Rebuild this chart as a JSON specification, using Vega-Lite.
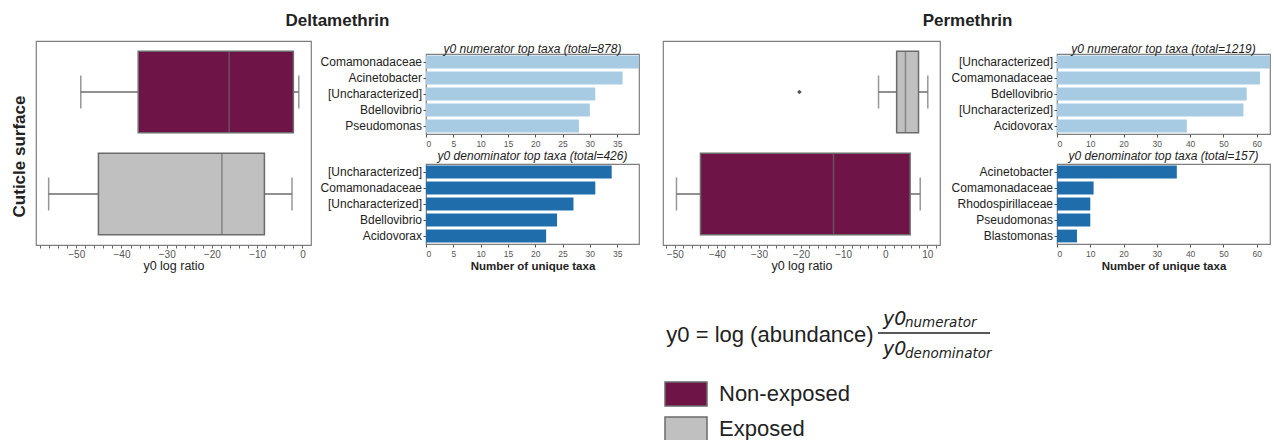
{
  "$schema": "https://vega.github.io/schema/vega-lite/v6.json",
  "background": "white",
  "padding": {"left": 9, "top": 12, "right": 0, "bottom": 0},
  "config": {
    "font": "Liberation Sans",
    "view": {"stroke": "#7f7f7f", "strokeWidth": 1.2},
    "axis": {"grid": false, "domain": false, "labelFont": "Liberation Sans", "titleFont": "Liberation Sans"},
    "title": {"font": "Liberation Sans", "color": "#222222"}
  },
  "datasets": {
    "boxes": [
      {"insecticide": "Deltamethrin", "group": "Non-exposed", "lower": -49.0, "q1": -36.3, "median": -16.2, "q3": -2.0, "upper": -0.8},
      {"insecticide": "Deltamethrin", "group": "Exposed", "lower": -56.1, "q1": -45.1, "median": -17.8, "q3": -8.4, "upper": -2.3},
      {"insecticide": "Permethrin", "group": "Exposed", "lower": -1.6, "q1": 2.7, "median": 4.8, "q3": 7.9, "upper": 10.1},
      {"insecticide": "Permethrin", "group": "Non-exposed", "lower": -49.6, "q1": -43.9, "median": -12.3, "q3": 5.9, "upper": 8.3}
    ],
    "outliers": [
      {"insecticide": "Permethrin", "group": "Exposed", "value": -20.4}
    ],
    "taxa": [
      {"insecticide": "Deltamethrin", "ratio": "numerator", "rank": 1, "taxon": "Comamonadaceae", "count": 39},
      {"insecticide": "Deltamethrin", "ratio": "numerator", "rank": 2, "taxon": "Acinetobacter", "count": 36},
      {"insecticide": "Deltamethrin", "ratio": "numerator", "rank": 3, "taxon": "[Uncharacterized]", "count": 31},
      {"insecticide": "Deltamethrin", "ratio": "numerator", "rank": 4, "taxon": "Bdellovibrio", "count": 30},
      {"insecticide": "Deltamethrin", "ratio": "numerator", "rank": 5, "taxon": "Pseudomonas", "count": 28},
      {"insecticide": "Deltamethrin", "ratio": "denominator", "rank": 1, "taxon": "[Uncharacterized]", "count": 34},
      {"insecticide": "Deltamethrin", "ratio": "denominator", "rank": 2, "taxon": "Comamonadaceae", "count": 31},
      {"insecticide": "Deltamethrin", "ratio": "denominator", "rank": 3, "taxon": "[Uncharacterized]", "count": 27},
      {"insecticide": "Deltamethrin", "ratio": "denominator", "rank": 4, "taxon": "Bdellovibrio", "count": 24},
      {"insecticide": "Deltamethrin", "ratio": "denominator", "rank": 5, "taxon": "Acidovorax", "count": 22},
      {"insecticide": "Permethrin", "ratio": "numerator", "rank": 1, "taxon": "[Uncharacterized]", "count": 64},
      {"insecticide": "Permethrin", "ratio": "numerator", "rank": 2, "taxon": "Comamonadaceae", "count": 61},
      {"insecticide": "Permethrin", "ratio": "numerator", "rank": 3, "taxon": "Bdellovibrio", "count": 57},
      {"insecticide": "Permethrin", "ratio": "numerator", "rank": 4, "taxon": "[Uncharacterized]", "count": 56},
      {"insecticide": "Permethrin", "ratio": "numerator", "rank": 5, "taxon": "Acidovorax", "count": 39},
      {"insecticide": "Permethrin", "ratio": "denominator", "rank": 1, "taxon": "Acinetobacter", "count": 36},
      {"insecticide": "Permethrin", "ratio": "denominator", "rank": 2, "taxon": "Comamonadaceae", "count": 11},
      {"insecticide": "Permethrin", "ratio": "denominator", "rank": 3, "taxon": "Rhodospirillaceae", "count": 10},
      {"insecticide": "Permethrin", "ratio": "denominator", "rank": 4, "taxon": "Pseudomonas", "count": 10},
      {"insecticide": "Permethrin", "ratio": "denominator", "rank": 5, "taxon": "Blastomonas", "count": 6}
    ],
    "formula": [
      {"level": "numerator", "slot": "base", "text": "y0"},
      {"level": "numerator", "slot": "sub", "text": "numerator"},
      {"level": "denominator", "slot": "base", "text": "y0"},
      {"level": "denominator", "slot": "sub", "text": "denominator"}
    ],
    "lhs": [{"text": "y0 = log (abundance)"}],
    "blank": [{"empty": true}]
  },
  "spacing": 22,
  "hconcat": [
    {
      "title": {"text": "Deltamethrin", "fontSize": 17, "fontWeight": "bold", "anchor": "middle", "offset": 10, "dx": 13},
      "columns": 2,
      "align": "none",
      "spacing": 7,
      "concat": [
        {
          "width": 275, "height": 204,
          "data": {"name": "boxes"},
          "transform": [{"filter": "datum.insecticide === 'Deltamethrin'"}],
          "encoding": {
            "y": {"field": "group", "type": "nominal", "sort": ["Non-exposed", "Exposed"],
                  "scale": {"paddingInner": 0.2, "paddingOuter": 0.1},
                  "axis": {"title": "Cuticle surface", "labels": false, "ticks": false, "domain": false,
                           "titleFontSize": 17, "titleFontWeight": "bold", "titleColor": "#222222", "titlePadding": 8, "titleY": 115}}
          },
          "layer": [
            {"mark": {"type": "rule", "color": "#6b6b6b", "strokeWidth": 1.5},
             "encoding": {"x": {"field": "lower", "type": "quantitative", "title": "y0 log ratio",
                                "scale": {"domain": [-58.9, 1.9], "nice": false, "zero": false},
                                "axis": {"values": [-58,-56,-54,-52,-50,-48,-46,-44,-42,-40,-38,-36,-34,-32,-30,-28,-26,-24,-22,-20,-18,-16,-14,-12,-10,-8,-6,-4,-2,0],
                                         "tickCount": 100,
                                         "labelExpr": "datum.value % 10 === 0 ? replace(format(datum.value, 'd'), '-', '\u2212') : ''",
                                         "tickSize": 3, "tickColor": "#666666", "labelFontSize": 10, "labelColor": "#555555", "labelPadding": 1,
                                         "labelOverlap": false, "labelFlush": false,
                                         "titleFontSize": 12.5, "titleFontWeight": "normal", "titleColor": "#222222", "titlePadding": 0}},
                          "x2": {"field": "q1"}}},
            {"mark": {"type": "rule", "color": "#6b6b6b", "strokeWidth": 1.5},
             "encoding": {"x": {"field": "q3", "type": "quantitative", "title": "y0 log ratio"}, "x2": {"field": "upper"}}},
            {"mark": {"type": "bar", "stroke": "#6b6b6b", "strokeWidth": 1.5},
             "encoding": {"x": {"field": "q1", "type": "quantitative", "title": "y0 log ratio"}, "x2": {"field": "q3"},
                          "fill": {"field": "group", "type": "nominal",
                                   "scale": {"domain": ["Non-exposed", "Exposed"], "range": ["#6f1446", "#c0c0c0"]},
                                   "legend": {"orient": "none", "legendX": 634, "legendY": 337, "title": null,
                                              "symbolType": "M-1.4,-0.8H1.4V0.8H-1.4Z", "symbolSize": 900,
                                              "symbolStrokeColor": "#888888", "symbolStrokeWidth": 1.5, "symbolOpacity": 1,
                                              "labelFontSize": 22, "labelColor": "#222222", "labelOffset": 17, "rowPadding": 4,
                                              "labelFont": "Liberation Sans"}}}},
            {"mark": {"type": "tick", "color": "#6b6b6b", "size": 81, "thickness": 1.5},
             "encoding": {"x": {"field": "median", "type": "quantitative", "title": "y0 log ratio"}}},
            {"mark": {"type": "tick", "color": "#6b6b6b", "size": 33, "thickness": 1.5},
             "encoding": {"x": {"field": "lower", "type": "quantitative", "title": "y0 log ratio"}}},
            {"mark": {"type": "tick", "color": "#6b6b6b", "size": 33, "thickness": 1.5},
             "encoding": {"x": {"field": "upper", "type": "quantitative", "title": "y0 log ratio"}}}
          ]
        },
        {
          "spacing": 0,
          "vconcat": [
            {
              "width": 213, "height": 1,
              "view": {"stroke": null},
              "data": {"name": "blank"},
              "mark": {"type": "point", "opacity": 0, "size": 0}
            },
            {
              "width": 213, "height": 80,
              "title": {"text": "y0 numerator top taxa (total=878)", "fontSize": 12, "fontStyle": "italic", "fontWeight": "normal", "offset": -2, "frame": "group"},
              "data": {"name": "taxa"},
              "transform": [{"filter": "datum.insecticide === 'Deltamethrin' && datum.ratio === 'numerator'"}, {"calculate": "datum.rank + '|' + datum.taxon", "as": "key"}],
              "mark": {"type": "bar", "color": "#a6cbe3", "clip": true},
              "encoding": {
                "y": {"field": "key", "type": "nominal", "sort": null, "scale": {"paddingInner": 0.2, "paddingOuter": 0.1},
                      "axis": {"title": null, "labelExpr": "split(datum.label, '|')[1]", "labelFontSize": 12, "labelColor": "#222222", "tickSize": 3, "tickColor": "#555555", "labelPadding": 1.5}},
                "x": {"field": "count", "type": "quantitative", "scale": {"domain": [0, 39], "nice": false},
                      "axis": {"title": null, "values": [0, 5, 10, 15, 20, 25, 30, 35], "tickCount": 100, "format": "d", "labelFontSize": 8.5, "labelColor": "#555555", "tickSize": 3, "tickColor": "#555555", "labelPadding": 2}}
              }
            },
            {
              "width": 213, "height": 80,
              "title": {"text": "y0 denominator top taxa (total=426)", "fontSize": 12, "fontStyle": "italic", "fontWeight": "normal", "offset": 1, "frame": "group"},
              "data": {"name": "taxa"},
              "transform": [{"filter": "datum.insecticide === 'Deltamethrin' && datum.ratio === 'denominator'"}, {"calculate": "datum.rank + '|' + datum.taxon", "as": "key"}],
              "mark": {"type": "bar", "color": "#1f6eab", "clip": true},
              "encoding": {
                "y": {"field": "key", "type": "nominal", "sort": null, "scale": {"paddingInner": 0.2, "paddingOuter": 0.1},
                      "axis": {"title": null, "labelExpr": "split(datum.label, '|')[1]", "labelFontSize": 12, "labelColor": "#222222", "tickSize": 3, "tickColor": "#555555", "labelPadding": 1.5}},
                "x": {"field": "count", "type": "quantitative", "scale": {"domain": [0, 39], "nice": false},
                      "axis": {"title": "Number of unique taxa", "titleFontSize": 11.5, "titleFontWeight": "bold", "titleColor": "#222222", "titlePadding": 3,
                               "values": [0, 5, 10, 15, 20, 25, 30, 35], "tickCount": 100, "format": "d", "labelFontSize": 8.5, "labelColor": "#555555", "tickSize": 3, "tickColor": "#555555", "labelPadding": 2}}
              }
            }
          ]
        }
      ]
    },
    {
      "spacing": 30,
      "vconcat": [
        {
          "title": {"text": "Permethrin", "fontSize": 17, "fontWeight": "bold", "anchor": "middle", "offset": 10, "dx": 1},
          "columns": 2,
          "align": "none",
          "spacing": 9,
          "concat": [
            {
              "width": 277, "height": 204,
              "encoding": {
                "y": {"field": "group", "type": "nominal", "sort": ["Exposed", "Non-exposed"],
                      "scale": {"paddingInner": 0.2, "paddingOuter": 0.1}, "axis": null}
              },
              "layer": [
                {"data": {"name": "boxes"}, "transform": [{"filter": "datum.insecticide === 'Permethrin'"}],
                 "mark": {"type": "rule", "color": "#6b6b6b", "strokeWidth": 1.5},
                 "encoding": {"x": {"field": "lower", "type": "quantitative", "title": "y0 log ratio",
                                    "scale": {"domain": [-52.8, 13], "nice": false, "zero": false},
                                    "axis": {"values": [-52,-50,-48,-46,-44,-42,-40,-38,-36,-34,-32,-30,-28,-26,-24,-22,-20,-18,-16,-14,-12,-10,-8,-6,-4,-2,0,2,4,6,8,10,12],
                                             "tickCount": 100,
                                             "labelExpr": "datum.value % 10 === 0 ? replace(format(datum.value, 'd'), '-', '\u2212') : ''",
                                             "tickSize": 3, "tickColor": "#666666", "labelFontSize": 10, "labelColor": "#555555", "labelPadding": 1,
                                             "labelOverlap": false, "labelFlush": false,
                                             "titleFontSize": 12.5, "titleFontWeight": "normal", "titleColor": "#222222", "titlePadding": 0}},
                              "x2": {"field": "q1"}}},
                {"data": {"name": "boxes"}, "transform": [{"filter": "datum.insecticide === 'Permethrin'"}],
                 "mark": {"type": "rule", "color": "#6b6b6b", "strokeWidth": 1.5},
                 "encoding": {"x": {"field": "q3", "type": "quantitative", "title": "y0 log ratio"}, "x2": {"field": "upper"}}},
                {"data": {"name": "boxes"}, "transform": [{"filter": "datum.insecticide === 'Permethrin'"}],
                 "mark": {"type": "bar", "stroke": "#6b6b6b", "strokeWidth": 1.5},
                 "encoding": {"x": {"field": "q1", "type": "quantitative", "title": "y0 log ratio"}, "x2": {"field": "q3"},
                              "fill": {"field": "group", "type": "nominal",
                                       "scale": {"domain": ["Non-exposed", "Exposed"], "range": ["#6f1446", "#c0c0c0"]}}}},
                {"data": {"name": "boxes"}, "transform": [{"filter": "datum.insecticide === 'Permethrin'"}],
                 "mark": {"type": "tick", "color": "#6b6b6b", "size": 81, "thickness": 1.5},
                 "encoding": {"x": {"field": "median", "type": "quantitative", "title": "y0 log ratio"}}},
                {"data": {"name": "boxes"}, "transform": [{"filter": "datum.insecticide === 'Permethrin'"}],
                 "mark": {"type": "tick", "color": "#6b6b6b", "size": 33, "thickness": 1.5},
                 "encoding": {"x": {"field": "lower", "type": "quantitative", "title": "y0 log ratio"}}},
                {"data": {"name": "boxes"}, "transform": [{"filter": "datum.insecticide === 'Permethrin'"}],
                 "mark": {"type": "tick", "color": "#6b6b6b", "size": 33, "thickness": 1.5},
                 "encoding": {"x": {"field": "upper", "type": "quantitative", "title": "y0 log ratio"}}},
                {"data": {"name": "outliers"},
                 "mark": {"type": "point", "shape": "diamond", "filled": true, "color": "#555555", "size": 22, "opacity": 1},
                 "encoding": {"x": {"field": "value", "type": "quantitative", "title": "y0 log ratio"}}}
              ]
            },
            {
              "spacing": 0,
              "vconcat": [
                {
                  "width": 213, "height": 1,
                  "view": {"stroke": null},
                  "data": {"name": "blank"},
                  "mark": {"type": "point", "opacity": 0, "size": 0}
                },
                {
                  "width": 213, "height": 80,
                  "title": {"text": "y0 numerator top taxa (total=1219)", "fontSize": 12, "fontStyle": "italic", "fontWeight": "normal", "offset": -2, "frame": "group"},
                  "data": {"name": "taxa"},
                  "transform": [{"filter": "datum.insecticide === 'Permethrin' && datum.ratio === 'numerator'"}, {"calculate": "datum.rank + '|' + datum.taxon", "as": "key"}],
                  "mark": {"type": "bar", "color": "#a6cbe3", "clip": true},
                  "encoding": {
                    "y": {"field": "key", "type": "nominal", "sort": null, "scale": {"paddingInner": 0.2, "paddingOuter": 0.1},
                          "axis": {"title": null, "labelExpr": "split(datum.label, '|')[1]", "labelFontSize": 12, "labelColor": "#222222", "tickSize": 3, "tickColor": "#555555", "labelPadding": 1.5}},
                    "x": {"field": "count", "type": "quantitative", "scale": {"domain": [0, 64], "nice": false},
                          "axis": {"title": null, "values": [0, 10, 20, 30, 40, 50, 60], "tickCount": 100, "format": "d", "labelFontSize": 8.5, "labelColor": "#555555", "tickSize": 3, "tickColor": "#555555", "labelPadding": 2}}
                  }
                },
                {
                  "width": 213, "height": 80,
                  "title": {"text": "y0 denominator top taxa (total=157)", "fontSize": 12, "fontStyle": "italic", "fontWeight": "normal", "offset": 1, "frame": "group"},
                  "data": {"name": "taxa"},
                  "transform": [{"filter": "datum.insecticide === 'Permethrin' && datum.ratio === 'denominator'"}, {"calculate": "datum.rank + '|' + datum.taxon", "as": "key"}],
                  "mark": {"type": "bar", "color": "#1f6eab", "clip": true},
                  "encoding": {
                    "y": {"field": "key", "type": "nominal", "sort": null, "scale": {"paddingInner": 0.2, "paddingOuter": 0.1},
                          "axis": {"title": null, "labelExpr": "split(datum.label, '|')[1]", "labelFontSize": 12, "labelColor": "#222222", "tickSize": 3, "tickColor": "#555555", "labelPadding": 1.5}},
                    "x": {"field": "count", "type": "quantitative", "scale": {"domain": [0, 64], "nice": false},
                          "axis": {"title": "Number of unique taxa", "titleFontSize": 11.5, "titleFontWeight": "bold", "titleColor": "#222222", "titlePadding": 3,
                                   "values": [0, 10, 20, 30, 40, 50, 60], "tickCount": 100, "format": "d", "labelFontSize": 8.5, "labelColor": "#555555", "tickSize": 3, "tickColor": "#555555", "labelPadding": 2}}
                  }
                }
              ]
            }
          ]
        },
        {
          "spacing": 0,
          "hconcat": [
            {
              "width": 214, "height": 60,
              "view": {"stroke": null},
              "data": {"name": "lhs"},
              "mark": {"type": "text", "fontSize": 22, "color": "#222222", "baseline": "alphabetic", "align": "center", "dy": 9, "font": "Liberation Sans"},
              "encoding": {"text": {"field": "text"}}
            },
            {
              "width": 112, "height": 60,
              "view": {"stroke": null},
              "data": {"name": "formula"},
              "encoding": {"y": {"datum": "fraction", "type": "nominal", "axis": null}},
              "layer": [
                {"transform": [{"filter": "datum.level === 'numerator' && datum.slot === 'base'"}],
                 "mark": {"type": "rule", "color": "#222222", "strokeWidth": 1.3},
                 "encoding": {}},
                {"transform": [{"filter": "datum.level === 'numerator' && datum.slot === 'base'"}],
                 "mark": {"type": "text", "font": "DejaVu Sans", "fontStyle": "italic", "fontSize": 19, "align": "left", "baseline": "alphabetic", "dy": -8, "color": "#222222"},
                 "encoding": {"x": {"field": "slot", "type": "nominal", "axis": null, "scale": {"domain": ["base", "sub"], "range": [5, 27], "padding": 0}}, "text": {"field": "text"}}},
                {"transform": [{"filter": "datum.level === 'numerator' && datum.slot === 'sub'"}],
                 "mark": {"type": "text", "font": "DejaVu Sans", "fontStyle": "italic", "fontSize": 13.5, "align": "left", "baseline": "alphabetic", "dy": -6, "color": "#222222"},
                 "encoding": {"x": {"field": "slot", "type": "nominal", "axis": null}, "text": {"field": "text"}}},
                {"transform": [{"filter": "datum.level === 'denominator' && datum.slot === 'base'"}],
                 "mark": {"type": "text", "font": "DejaVu Sans", "fontStyle": "italic", "fontSize": 19, "align": "left", "baseline": "alphabetic", "dy": 22, "color": "#222222"},
                 "encoding": {"x": {"field": "slot", "type": "nominal", "axis": null}, "text": {"field": "text"}}},
                {"transform": [{"filter": "datum.level === 'denominator' && datum.slot === 'sub'"}],
                 "mark": {"type": "text", "font": "DejaVu Sans", "fontStyle": "italic", "fontSize": 13.5, "align": "left", "baseline": "alphabetic", "dy": 25, "color": "#222222"},
                 "encoding": {"x": {"field": "slot", "type": "nominal", "axis": null}, "text": {"field": "text"}}}
              ]
            }
          ]
        }
      ]
    }
  ]
}
